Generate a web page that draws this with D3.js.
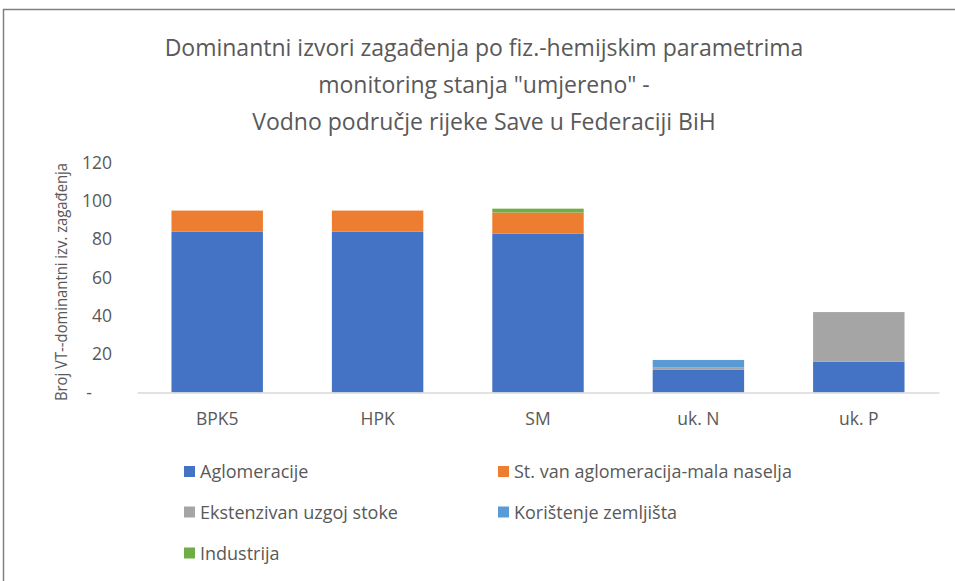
<!DOCTYPE html>
<html lang="bs">
<head>
    <meta charset="utf-8">
    <style>
        body { margin: 0; background: #fff; }
        text { font-family: "Open Sans", "Noto Sans", sans-serif; fill: #595959; }
    </style>
    <script src="https://d3js.org/d3.v7.min.js"></script>
</head>
<body>
    <svg width="955" height="581"></svg>
    <script>
        // podaci sa grafika
        var categories = ["BPK5", "HPK", "SM", "uk. N", "uk. P"];
        var seriesNames = ["Aglomeracije", "St. van aglomeracija-mala naselja",
                           "Ekstenzivan uzgoj stoke", "Korištenje zemljišta", "Industrija"];
        var aglomeracije = [84, 84, 83, 12, 16];
        var malaNaselja  = [11, 11, 11, 0, 0];
        var stoka        = [0, 0, 0, 1, 26];
        var zemljiste    = [0, 0, 0, 4, 0];
        var industrija   = [0, 0, 2, 0, 0];
        var yTicks = [0, 20, 40, 60, 80, 100, 120];
        var titleLines = ["Dominantni izvori zagađenja po fiz.-hemijskim parametrima",
                          "monitoring stanja \"umjereno\" -",
                          "Vodno područje rijeke Save u Federaciji BiH"];
        var yTitle = "Broj VT--dominantni izv. zagađenja";

        var colors = ["#4472C4", "#ED7D31", "#A5A5A5", "#5B9BD5", "#70AD47"];
        var series = [aglomeracije, malaNaselja, stoka, zemljiste, industrija];

        var rows = categories.map(function(c, i) {
            var r = { cat: c };
            seriesNames.forEach(function(s, j) { r[s] = series[j][i]; });
            return r;
        });

        var svg = d3.select("svg");

        // okvir grafika
        svg.append("rect")
            .attr("x", 3.5).attr("y", 9.5)
            .attr("width", 1000).attr("height", 1000)
            .attr("fill", "none")
            .attr("stroke", "#808080")
            .attr("stroke-width", 1.5);

        var x = d3.scaleBand().domain(categories).range([137, 939]).paddingInner(0.43).paddingOuter(0.215);
        var y = d3.scaleLinear().domain([0, 120]).range([392.5, 162.7]);

        var stack = d3.stack().keys(seriesNames)(rows);

        svg.append("g").selectAll("g")
            .data(stack)
            .enter().append("g")
            .attr("fill", function(d, i) { return colors[i]; })
            .selectAll("rect")
            .data(function(d) { return d; })
            .enter().append("rect")
            .attr("x", function(d) { return x(d.data.cat); })
            .attr("y", function(d) { return y(d[1]); })
            .attr("width", x.bandwidth())
            .attr("height", function(d) { return y(d[0]) - y(d[1]); });

        // x os
        var xAxis = svg.append("g")
            .attr("transform", "translate(0," + y(0) + ")")
            .call(d3.axisBottom(x).tickSize(0).tickPadding(20));
        xAxis.select(".domain").attr("stroke", "#d9d9d9").attr("stroke-width", 1.3);
        xAxis.selectAll("text").attr("font-size", "17.5px").attr("fill", "#595959");

        // y os
        var yAxis = svg.append("g")
            .attr("transform", "translate(112,0)")
            .call(d3.axisLeft(y).tickValues(yTicks).tickSize(0).tickPadding(0)
                .tickFormat(function(d) { return d === 0 ? "-" : d; }));
        yAxis.select(".domain").remove();
        yAxis.selectAll("text").attr("font-size", "17.5px").attr("fill", "#595959");
        yAxis.selectAll(".tick").filter(function(d) { return d === 0; })
            .select("text").attr("x", -20);

        svg.append("text")
            .attr("transform", "translate(67,282) rotate(-90)")
            .attr("text-anchor", "middle")
            .attr("font-size", "16.5px")
            .attr("textLength", 238)
            .attr("lengthAdjust", "spacingAndGlyphs")
            .text(yTitle);

        // naslov
        svg.append("g").selectAll("text")
            .data(titleLines)
            .enter().append("text")
            .attr("x", 484)
            .attr("y", function(d, i) { return 56 + i * 37; })
            .attr("text-anchor", "middle")
            .attr("font-size", "23px")
            .text(function(d) { return d; });

        // legenda
        var legendPos = [[184, 471.5], [498, 471.5], [184, 512], [498, 512], [184, 553]];
        var legend = svg.append("g").selectAll("g")
            .data(seriesNames)
            .enter().append("g")
            .attr("transform", function(d, i) { return "translate(" + legendPos[i][0] + "," + legendPos[i][1] + ")"; });
        legend.append("rect")
            .attr("x", 0).attr("y", -5.5)
            .attr("width", 11).attr("height", 11)
            .attr("fill", function(d, i) { return colors[i]; });
        legend.append("text")
            .attr("x", 16).attr("y", 6.5)
            .attr("font-size", "18px")
            .text(function(d) { return d; });
    </script>
</body>
</html>
